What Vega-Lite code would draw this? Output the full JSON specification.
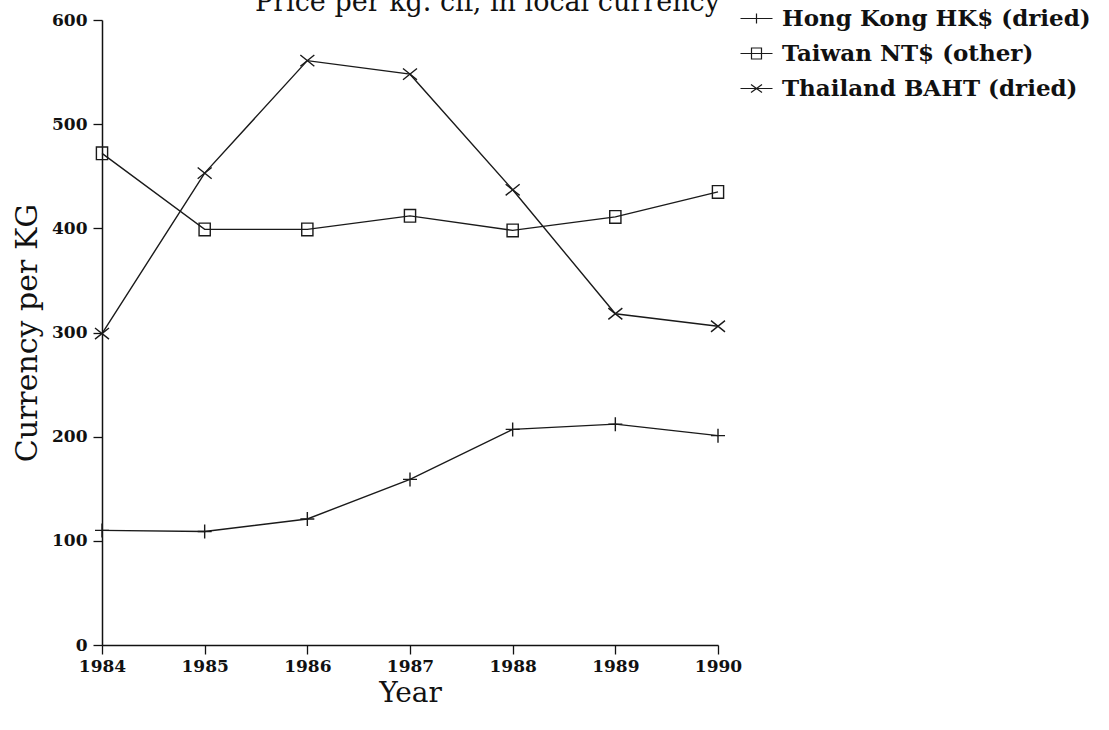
{
  "$schema": "https://vega.github.io/schema/vega-lite/v6.json",
  "autosize": {"type": "none"},
  "width": 616,
  "height": 625,
  "padding": {"left": 102, "top": 20, "right": 391, "bottom": 85},
  "background": "white",
  "config": {
    "view": {"stroke": null},
    "font": "DejaVu Serif",
    "axis": {
      "domainColor": "#111",
      "domainWidth": 1.5,
      "tickColor": "#111",
      "tickWidth": 1.3,
      "tickSize": 9,
      "grid": false,
      "labelFont": "DejaVu Serif",
      "labelFontSize": 17,
      "labelFontWeight": "bold",
      "labelColor": "#111",
      "titleFont": "DejaVu Serif",
      "titleFontSize": 28,
      "titleFontWeight": "normal",
      "titleColor": "#111"
    }
  },
  "title": {
    "text": "Price per kg. cif, in local currency",
    "font": "DejaVu Serif",
    "fontSize": 27,
    "fontWeight": "normal",
    "color": "#111",
    "anchor": "start",
    "frame": "group",
    "baseline": "alphabetic",
    "offset": 1,
    "dy": 32,
    "dx": 153
  },
  "data": {
    "values": [
      {"series": "Hong Kong HK$ (dried)", "year": 1984, "value": 110},
      {"series": "Hong Kong HK$ (dried)", "year": 1985, "value": 109},
      {"series": "Hong Kong HK$ (dried)", "year": 1986, "value": 121},
      {"series": "Hong Kong HK$ (dried)", "year": 1987, "value": 159},
      {"series": "Hong Kong HK$ (dried)", "year": 1988, "value": 207},
      {"series": "Hong Kong HK$ (dried)", "year": 1989, "value": 212},
      {"series": "Hong Kong HK$ (dried)", "year": 1990, "value": 201},
      {"series": "Taiwan NT$ (other)", "year": 1984, "value": 472},
      {"series": "Taiwan NT$ (other)", "year": 1985, "value": 399},
      {"series": "Taiwan NT$ (other)", "year": 1986, "value": 399},
      {"series": "Taiwan NT$ (other)", "year": 1987, "value": 412},
      {"series": "Taiwan NT$ (other)", "year": 1988, "value": 398},
      {"series": "Taiwan NT$ (other)", "year": 1989, "value": 411},
      {"series": "Taiwan NT$ (other)", "year": 1990, "value": 435},
      {"series": "Thailand BAHT (dried)", "year": 1984, "value": 299},
      {"series": "Thailand BAHT (dried)", "year": 1985, "value": 453},
      {"series": "Thailand BAHT (dried)", "year": 1986, "value": 561},
      {"series": "Thailand BAHT (dried)", "year": 1987, "value": 548},
      {"series": "Thailand BAHT (dried)", "year": 1988, "value": 437},
      {"series": "Thailand BAHT (dried)", "year": 1989, "value": 318},
      {"series": "Thailand BAHT (dried)", "year": 1990, "value": 306}
    ]
  },
  "encoding": {
    "x": {
      "field": "year",
      "type": "quantitative",
      "scale": {"domain": [1984, 1990], "nice": false, "zero": false},
      "axis": {"values": [1984, 1985, 1986, 1987, 1988, 1989, 1990], "format": "d", "title": "Year", "labelPadding": 4, "titlePadding": 5, "labelFlush": false}
    },
    "y": {
      "field": "value",
      "type": "quantitative",
      "scale": {"domain": [0, 600], "nice": false},
      "axis": {"values": [0, 100, 200, 300, 400, 500, 600], "title": "Currency per KG", "labelPadding": 6, "titlePadding": 9, "titleFontSize": 30}
    }
  },
  "layer": [
    {
      "mark": {"type": "line", "color": "#1a1a1a", "strokeWidth": 1.4},
      "encoding": {"detail": {"field": "series", "type": "nominal"}}
    },
    {
      "mark": {"type": "point", "filled": false, "strokeWidth": 1.4, "size": 196, "opacity": 1},
      "encoding": {
        "color": {"value": "#1a1a1a"},
        "shape": {
          "field": "series",
          "type": "nominal",
          "scale": {
            "domain": ["Hong Kong HK$ (dried)", "Taiwan NT$ (other)", "Thailand BAHT (dried)"],
            "range": [
              "M-1,0L1,0M0,-1L0,1",
              "M-0.8,-0.9L0.8,-0.9L0.8,0.9L-0.8,0.9Z",
              "M-1,-0.8L1,0.8M-1,0.8L1,-0.8"
            ]
          },
          "legend": null
        }
      }
    },
    {
      "mark": {"type": "point", "filled": false, "strokeWidth": 1.2, "size": 100, "opacity": 0},
      "encoding": {
        "color": {"value": "#1a1a1a"},
        "shape": {
          "field": "series",
          "type": "nominal",
          "scale": {
            "domain": ["Hong Kong HK$ (dried)", "Taiwan NT$ (other)", "Thailand BAHT (dried)"],
            "range": [
              "M-3.2,0L3.2,0M0,-1L0,1",
              "M-3.2,0L3.2,0M-1,-1.1L1,-1.1L1,1.1L-1,1.1Z",
              "M-3.2,0L3.2,0M-1.1,-0.8L1.1,0.8M-1.1,0.8L1.1,-0.8"
            ]
          },
          "legend": {
            "title": null,
            "orient": "none",
            "legendX": 643,
            "legendY": -13,
            "symbolSize": 100,
            "symbolOpacity": 1,
            "symbolStrokeWidth": 1.2,
            "symbolStrokeColor": "#1a1a1a",
            "symbolFillColor": "transparent",
            "labelFont": "DejaVu Serif",
            "labelFontSize": 23,
            "labelFontWeight": "bold",
            "labelColor": "#111",
            "labelLimit": 0,
            "labelOffset": 14,
            "rowPadding": 11
          }
        }
      }
    }
  ],
  "resolve": {"scale": {"shape": "independent"}, "legend": {"shape": "independent"}}
}
